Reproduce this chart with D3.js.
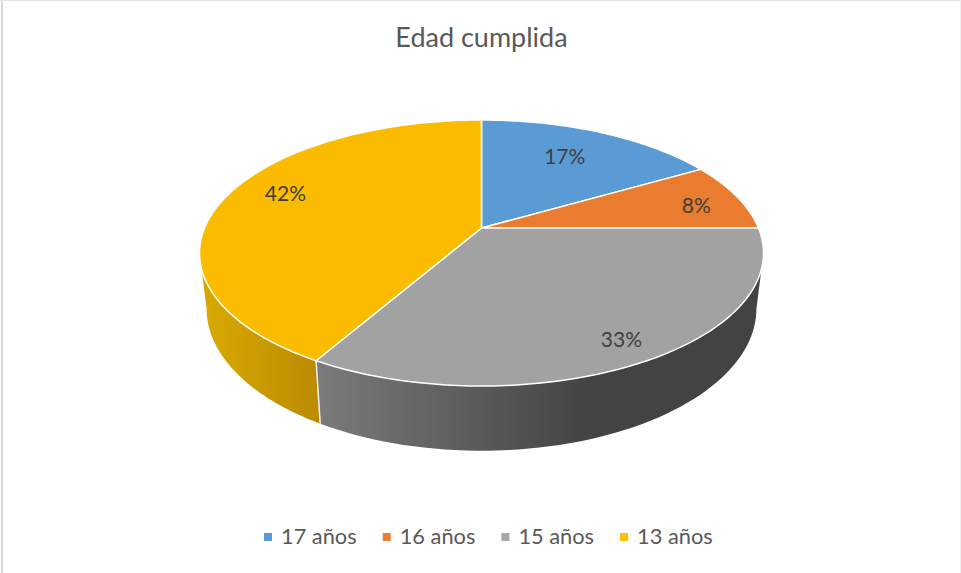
<!DOCTYPE html>
<html><head><meta charset="utf-8">
<script src="https://cdn.jsdelivr.net/npm/d3@7"></script>
<style>html,body{margin:0;padding:0;background:#fff}svg{display:block}text{font-family:Lato,sans-serif}</style>
</head><body><svg id="c" width="961" height="573"></svg>
<script>
const title = "Edad cumplida";
const categories = ["17 años","16 años","15 años","13 años"];
const counts = [2,1,4,5];
const percentLabels = ["17%","8%","33%","42%"];
const colors = ["#5b9bd5","#ed7d31","#a5a5a5","#ffc000"];
const topColors = ["#5b9bd5","#ea7c30","#a2a2a2","#fbbc00"];

const svg = d3.select("#c");
// frame
svg.append("path").attr("d","M2 573V0").attr("fill","none").attr("stroke","#d9d9d9").attr("stroke-width",2);
svg.append("path").attr("d","M0 0.5H961").attr("fill","none").attr("stroke","#e2e2e2").attr("stroke-width",1);
svg.append("path").attr("d","M960.5 0V573").attr("fill","none").attr("stroke","#f0f0f0").attr("stroke-width",1);

const topPlane = {x0:481.5,y0:228,A:277,B:128.3,k:0.188};
const botPlane = {x0:481.5,y0:282,A:270,B:137,k:0.188};
function project(p,a,r=1){ // a clockwise from 12 o'clock, radians
  const u=r*Math.sin(a), v=-r*Math.cos(a), d=1-p.k*v;
  return [p.x0+p.A*u/d, p.y0+p.B*v/d];
}
const arcs = d3.pie().sort(null).value(d=>d)(counts);
const line = d3.line();
function samples(a0,a1){ return d3.range(0,61).map(i=>a0+(a1-a0)*i/60); }

// gradients for the extruded rim
const defs = svg.append("defs");
function grad(id,x1,x2,c1,c2){
  const g = defs.append("linearGradient").attr("id",id).attr("gradientUnits","userSpaceOnUse")
    .attr("x1",x1).attr("x2",x2).attr("y1",0).attr("y2",0);
  g.append("stop").attr("offset",0).attr("stop-color",c1);
  g.append("stop").attr("offset",1).attr("stop-color",c2);
}
grad("gGrey",318,590,"#7b7b7b","#434343");
grad("gYellow",205,320,"#d9a900","#bb8a00");

function side(a0,a1,fill){
  const tp = samples(a0,a1).map(a=>project(topPlane,a));
  const bp = samples(a0,a1).map(a=>project(botPlane,a)).reverse();
  svg.append("path").attr("d",line(tp.concat(bp))+"Z").attr("fill",fill);
}
// the rim is visible only between the two silhouette angles of the disc
const silhouette = Math.acos(topPlane.k);
const rightEdge = Math.PI - silhouette, leftEdge = Math.PI + silhouette;
side(Math.max(arcs[2].startAngle,rightEdge), arcs[2].endAngle, "url(#gGrey)");
side(arcs[3].startAngle, leftEdge, "url(#gYellow)");
// rim divider
const divA = arcs[3].startAngle;
svg.append("path").attr("d",line([project(topPlane,divA),project(botPlane,divA)]))
  .attr("stroke","#f2f2f2").attr("stroke-width",1.5).attr("fill","none");

// top faces
arcs.forEach((s,i)=>{
  const pts = samples(s.startAngle,s.endAngle).map(a=>project(topPlane,a));
  svg.append("path").attr("d",line([[topPlane.x0,topPlane.y0],...pts])+"Z")
    .attr("fill",topColors[i]).attr("stroke","#fff").attr("stroke-width",1.5).attr("stroke-linejoin","round");
});

// percentage labels
const labelR = [0.72,0.86,0.72,0.72];
const labelNudge = [[-6,0],[-6,5],[27,21],[-10,-11]];
arcs.forEach((s,i)=>{
  const m=(s.startAngle+s.endAngle)/2;
  const [x,y]=project(topPlane,m,labelR[i]);
  svg.append("text").attr("x",x+labelNudge[i][0]).attr("y",y+labelNudge[i][1]).attr("dy","0.35em")
    .attr("text-anchor","middle").attr("font-size",21).attr("fill","#404040").text(percentLabels[i]);
});

// title
svg.append("text").attr("x",481.5).attr("y",47).attr("text-anchor","middle")
  .attr("font-size",27).attr("fill","#595959").text(title);

// legend
const lx = d3.scaleBand().domain(categories).range([264,264+118.7*4]);
const lg = svg.selectAll("g.l").data(categories).join("g").attr("class","l")
  .attr("transform",d=>`translate(${lx(d)},0)`);
lg.append("rect").attr("y",533).attr("width",8).attr("height",8).attr("fill",(d,i)=>colors[i]);
lg.append("text").attr("x",17).attr("y",544).attr("font-size",21.8).attr("fill","#595959").text(d=>d);
</script></body></html>
